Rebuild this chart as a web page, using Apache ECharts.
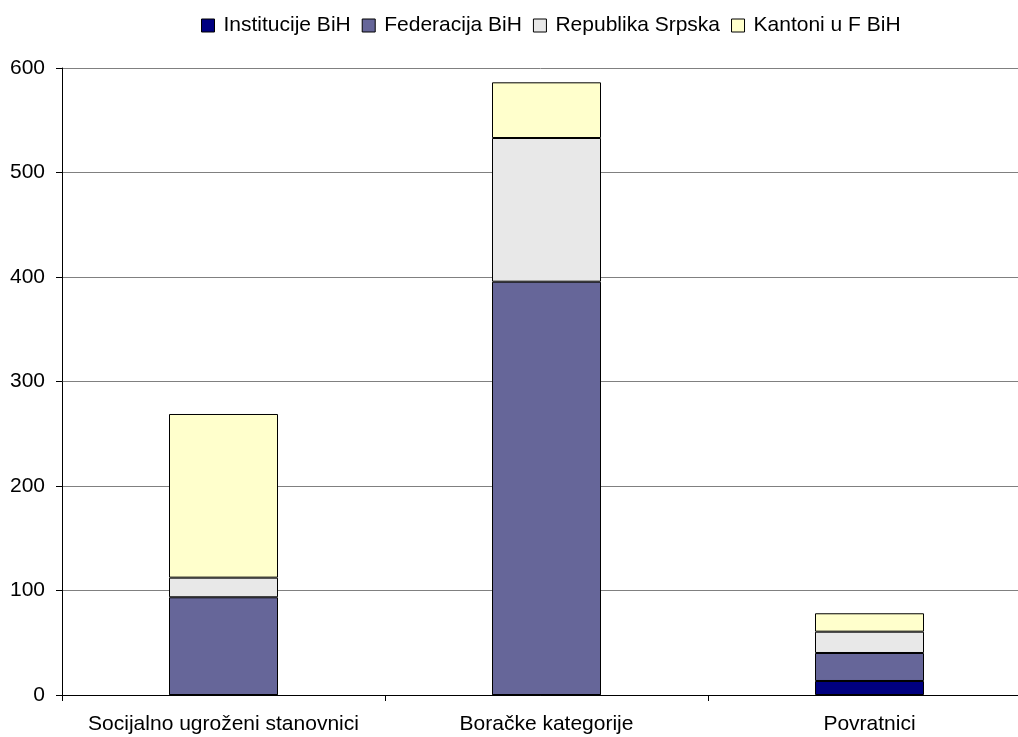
<!DOCTYPE html>
<html><head><meta charset="utf-8">
<script src="https://cdn.jsdelivr.net/npm/echarts@6/dist/echarts.min.js"></script>
<style>html,body{margin:0;padding:0;background:#fff}#c{width:1018px;height:737px}</style>
</head><body><div id="c"></div>
<script>
const categories = ['Socijalno ugroženi stanovnici', 'Boračke kategorije', 'Povratnici'];
const institucije = [0, 0, 13.4];
const federacija = [93.5, 395.5, 26.8];
const republika = [18.8, 137.5, 20.4];
const kantoni = [156.6, 53.3, 17.6];
const seriesNames = ['Institucije BiH', 'Federacija BiH', 'Republika Srpska', 'Kantoni u F BiH'];
const colors = ['#000080', '#666699', '#E8E8E8', '#FFFFCC'];
const yTicks = [0, 100, 200, 300, 400, 500, 600];

const chart = echarts.init(document.getElementById('c'));
const dataSets = [institucije, federacija, republika, kantoni];
chart.setOption({
  animation: false,
  textStyle: { fontFamily: 'Liberation Sans, Arial, sans-serif' },
  legend: {
    top: 10, left: 196, itemWidth: 13, itemHeight: 13, itemGap: 11,
    icon: 'rect',
    textStyle: { fontSize: 21, color: '#000', padding: [0, 0, 0, 4] },
    data: seriesNames.map((n, i) => ({ name: n, itemStyle: { color: colors[i], borderColor: '#000', borderWidth: 1 } }))
  },
  grid: { left: 62, width: 969, top: 68, height: 627, containLabel: false, outerBoundsMode: 'none' },
  xAxis: {
    type: 'category', data: categories,
    axisLine: { lineStyle: { color: '#000', width: 1 } },
    axisTick: { show: true, length: 6, lineStyle: { color: '#000' } },
    axisLabel: { color: '#000', fontSize: 21, margin: 19, interval: 0 }
  },
  yAxis: {
    type: 'value', min: yTicks[0], max: yTicks[yTicks.length - 1], interval: 100,
    axisLine: { show: true, lineStyle: { color: '#000', width: 1 } },
    axisTick: { show: true, length: 6, lineStyle: { color: '#000' } },
    axisLabel: { color: '#000', fontSize: 21, margin: 17 },
    splitLine: { lineStyle: { color: '#808080', width: 1 } }
  },
  series: seriesNames.map((n, i) => ({
    name: n, type: 'bar', stack: 'total', data: dataSets[i],
    barWidth: 109,
    itemStyle: { color: colors[i], borderColor: '#000', borderWidth: 1 }
  }))
});
</script></body></html>
